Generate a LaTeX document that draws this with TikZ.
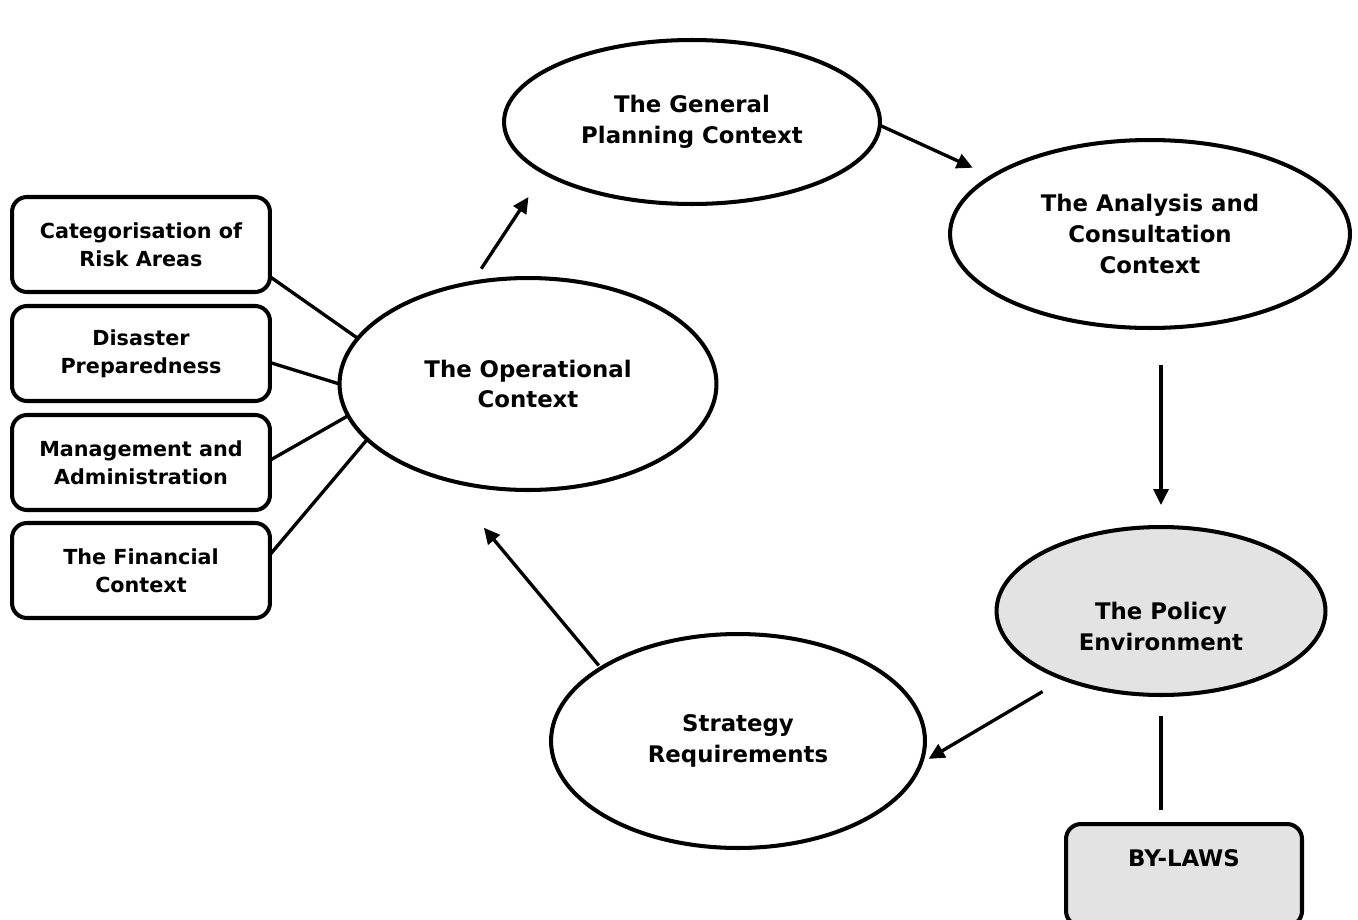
\documentclass[tikz,border=0pt]{standalone}
\usepackage{fontspec}
\setmainfont{DejaVu Sans}
\usetikzlibrary{shapes.geometric, arrows.meta}

\tikzset{
  ctx/.style={ellipse, draw, line width=2.3pt, inner sep=0pt, outer sep=0pt, align=center,
    font=\bfseries\fontsize{13}{17.6}\selectfont},
  item/.style={rectangle, draw, rounded corners=0.3cm, line width=2.3pt, inner sep=0pt, outer sep=0pt,
    minimum width=5.16cm, minimum height=1.9cm, align=center, font=\bfseries\fontsize{11.8}{16}\selectfont},
  arr/.style={-{Triangle[length=0.32cm,width=0.3cm]}, line width=1.9pt},
  link/.style={line width=1.9pt}
}

\begin{document}
\begin{tikzpicture}[x=0.02cm, y=-0.02cm]
    \useasboundingbox (0,0) rectangle (1358,919);
    \clip (0,0) rectangle (1358,919);
    % the contexts
    \node[ctx, minimum width=7.52cm, minimum height=3.28cm] (gen) at (692,122) {The General\\Planning Context};
    \node[ctx, minimum width=8cm, minimum height=3.76cm] (ana) at (1150,234) {The Analysis and\\Consultation\\Context};
    \node[ctx, minimum width=7.54cm, minimum height=4.24cm] (op) at (528,384) {The Operational\\Context};
    \node[ctx, fill=gray!22, minimum width=6.58cm, minimum height=3.36cm] (pol) at (1161,611) {\mbox{}\\[0.36cm]The Policy\\Environment};
    \node[ctx, minimum width=7.48cm, minimum height=4.28cm] (str) at (738,741) {Strategy\\Requirements};
    \node[item, fill=gray!22, minimum width=4.72cm, minimum height=2.04cm, text height=0.4cm, text depth=0.76cm,
      font=\bfseries\fontsize{13}{17.6}\selectfont] (law) at (1184,875) {BY-LAWS};
    % the operational items
    \node[item] (r1) at (141,244.5) {Categorisation of\\Risk Areas};
    \node[item] (r2) at (141,353.5) {Disaster\\Preparedness};
    \node[item] (r3) at (141,462.5) {Management and\\Administration};
    \node[item] (r4) at (141,570.5) {The Financial\\Context};
    % the cycle
    \draw[arr, shorten <=0.34cm, shorten >=0.58cm] (op.119) -- (gen.199);
    \draw[arr, shorten >=0.42cm] (gen.-1) -- (ana.160);
    \draw[arr, shorten <=0.74cm, shorten >=0.44cm] (ana.south -| pol.north) -- (pol.north);
    \draw[arr, shorten <=0.5cm, shorten >=0.18cm] (pol.215.6) -- (str.-7.3);
    \draw[arr, shorten <=0.07cm, shorten >=1.28cm] (str.152) -- (op.228);
    \draw[link, shorten <=0.42cm, shorten >=0.28cm] (pol.south) -- (pol.south |- law.north);
    % items to the operational context
    \draw[link] (r1.-14.6) -- (op.165);
    \draw[link] (r2.-4) -- (op.west);
    \draw[link] (r3.1) -- (op.190);
    \draw[link] (r4.7) -- (op.199);
\end{tikzpicture}
\end{document}
